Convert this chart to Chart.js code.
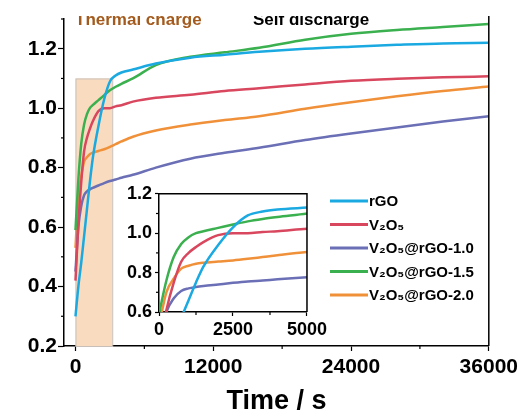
<!DOCTYPE html>
<html>
<head>
<meta charset="utf-8">
<script src="https://cdn.jsdelivr.net/npm/chart.js@4.4.0/dist/chart.umd.min.js"></script>
<style>
  html, body { margin: 0; padding: 0; background: #fff; }
  #wrap { position: relative; width: 522px; height: 419px; overflow: hidden; }
  #mainChart { position: absolute; left: 0; top: 0; }
  #insetChart { position: absolute; left: 100px; top: 180px; }
</style>
</head>
<body>
<div id="wrap">
  <canvas id="mainChart" width="522" height="419"></canvas>
  <canvas id="insetChart" width="230" height="160"></canvas>
</div>
<script>
// Sample times (s), shared by all curves
const times = [0, 250, 500, 750, 1000, 1250, 1500, 2000, 2500, 3000, 3500, 4000, 5000,
               7000, 10000, 13000, 16000, 20000, 24000, 28000, 32000, 36000];

// Voltage (V)
const rGO     = [0.30, 0.40, 0.48, 0.57, 0.66, 0.75, 0.83, 0.94, 1.03, 1.09, 1.11, 1.12, 1.13,
                 1.15, 1.17, 1.18, 1.19, 1.20, 1.207, 1.213, 1.218, 1.22];
const v2o5    = [0.42, 0.61, 0.75, 0.855, 0.90, 0.93, 0.955, 0.99, 1.0, 1.0, 1.006, 1.01, 1.022,
                 1.035, 1.045, 1.058, 1.067, 1.08, 1.092, 1.099, 1.104, 1.107];
const comp10  = [0.45, 0.60, 0.67, 0.707, 0.72, 0.727, 0.732, 0.74, 0.748, 0.755, 0.76, 0.766, 0.776,
                 0.80, 0.83, 0.85, 0.867, 0.893, 0.915, 0.935, 0.955, 0.973];
const comp15  = [0.59, 0.76, 0.88, 0.945, 0.98, 1.0, 1.01, 1.027, 1.044, 1.06, 1.072, 1.082, 1.10,
                 1.145, 1.173, 1.188, 1.203, 1.23, 1.25, 1.263, 1.273, 1.283];
const comp20  = [0.53, 0.70, 0.77, 0.82, 0.835, 0.845, 0.85, 0.856, 0.862, 0.87, 0.879, 0.888, 0.904,
                 0.925, 0.945, 0.96, 0.973, 0.998, 1.02, 1.04, 1.058, 1.073];

const seriesLabels = ['rGO', 'V₂O₅', 'V₂O₅@rGO-1.0', 'V₂O₅@rGO-1.5', 'V₂O₅@rGO-2.0'];
const seriesValues = [rGO, v2o5, comp10, comp15, comp20];

// Axis ticks
const mainXTicks = [0, 6000, 12000, 18000, 24000, 30000, 36000];
const mainYTicks = [0.2, 0.3, 0.4, 0.5, 0.6, 0.7, 0.8, 0.9, 1.0, 1.1, 1.2, 1.3];
const insetXTicks = [0, 1250, 2500, 3750, 5000];
const insetYTicks = [0.6, 0.7, 0.8, 0.9, 1.0, 1.1, 1.2];

// Thermal charge window (s, V)
const chargeWindow = [0, 3200];
const chargeTop = 1.1;

const COLORS = ['#1ba9e1', '#d8475e', '#6b6fb5', '#3bb04f', '#f0913a'];
const FONT = "'Liberation Sans', Arial, sans-serif";

function makeDatasets(width) {
    return seriesValues.map((vals, i) => ({
        label: seriesLabels[i],
        data: times.map((t, k) => ({ x: t, y: vals[k] })),
        borderColor: COLORS[i],
        borderWidth: width,
        pointRadius: 0,
        fill: false,
        cubicInterpolationMode: 'monotone'
    }));
}

// major/minor helpers
const isMajorY = v => Math.round(v * 10) % 2 === 0 && v < 1.25;
const tickColorY = c => (c.tick && isMajorY(c.tick.value)) ? '#000' : 'rgba(0,0,0,0)';

function drawMinor(ctx, scale, isMajor, len, horizontal) {
    ctx.save();
    ctx.strokeStyle = '#000';
    ctx.lineWidth = 1.2;
    scale.ticks.forEach(t => {
        if (isMajor(t.value)) return;
        const p = scale.getPixelForValue(t.value);
        ctx.beginPath();
        if (horizontal) {
            ctx.moveTo(p, scale.top);
            ctx.lineTo(p, scale.top + len);
        } else {
            ctx.moveTo(scale.right, p);
            ctx.lineTo(scale.right - len, p);
        }
        ctx.stroke();
    });
    ctx.restore();
}

const mainDecor = {
    id: 'mainDecor',
    beforeDatasetsDraw(chart) {
        const { ctx, scales: { x, y } } = chart;
        const l = x.getPixelForValue(chargeWindow[0]), r = x.getPixelForValue(chargeWindow[1]);
        const t = y.getPixelForValue(chargeTop), b = y.getPixelForValue(0.2);
        ctx.save();
        ctx.fillStyle = '#f9dcbf';
        ctx.fillRect(l, t, r - l, b - t);
        ctx.strokeStyle = '#c8c0b8';
        ctx.lineWidth = 1;
        ctx.strokeRect(l + 0.5, t + 0.5, r - l, b - t);
        ctx.restore();
    },
    afterDraw(chart) {
        const { ctx, chartArea, scales: { x, y } } = chart;
        // right axis line
        ctx.save();
        ctx.strokeStyle = '#000';
        ctx.lineWidth = 1.5;
        ctx.beginPath();
        ctx.moveTo(chartArea.right, chartArea.top - 3);
        ctx.lineTo(chartArea.right, chartArea.bottom);
        ctx.stroke();
        ctx.restore();

        drawMinor(ctx, x, v => v % 12000 === 0, 3, true);
        drawMinor(ctx, y, isMajorY, 3, false);

        // region labels, cut at the top like the source figure
        ctx.save();
        ctx.beginPath();
        ctx.rect(0, 16, chart.width, 30);
        ctx.clip();
        ctx.font = 'bold 17px ' + FONT;
        ctx.textBaseline = 'alphabetic';
        ctx.fillStyle = '#a35a1c';
        ctx.fillText('Thermal charge', 75, 25);
        ctx.fillStyle = '#000';
        ctx.fillText('Self discharge', 253, 25);
        ctx.restore();

        // legend
        ctx.save();
        ctx.font = 'bold 15px ' + FONT;
        ctx.textBaseline = 'middle';
        chart.data.datasets.forEach((ds, i) => {
            const yy = 201 + i * 23.5;
            ctx.strokeStyle = ds.borderColor;
            ctx.lineWidth = 3;
            ctx.beginPath();
            ctx.moveTo(330, yy);
            ctx.lineTo(368, yy);
            ctx.stroke();
            ctx.fillStyle = '#000';
            ctx.fillText(ds.label, 369, yy + 1);
        });
        ctx.restore();
    }
};

const insetDecor = {
    id: 'insetDecor',
    afterDraw(chart) {
        const { ctx, chartArea, scales: { x, y } } = chart;
        ctx.save();
        ctx.strokeStyle = '#000';
        ctx.lineWidth = 1.5;
        ctx.beginPath();
        ctx.moveTo(chartArea.left, chartArea.top);
        ctx.lineTo(chartArea.right, chartArea.top);
        ctx.lineTo(chartArea.right, chartArea.bottom);
        ctx.stroke();
        ctx.restore();
        drawMinor(ctx, x, v => v % 2500 === 0, 3, true);
        drawMinor(ctx, y, v => Math.round(v * 10) % 2 === 0, 3, false);
    }
};

new Chart(document.getElementById('mainChart'), {
    type: 'line',
    data: { datasets: makeDatasets(2.5) },
    options: {
        responsive: false,
        animation: false,
        layout: { padding: { left: 0, top: 19, right: 32, bottom: 0 } },
        plugins: { legend: { display: false }, tooltip: { enabled: false } },
        scales: {
            x: {
                type: 'linear',
                min: -1000,
                max: 36000,
                afterBuildTicks: s => { s.ticks = mainXTicks.map(v => ({ value: v })); },
                afterFit: s => { s.height = 73; },
                grid: {
                    drawOnChartArea: false, tickLength: 5, tickWidth: 1.2,
                    tickColor: c => (c.tick && c.tick.value % 12000 === 0) ? '#000' : 'rgba(0,0,0,0)'
                },
                border: { color: '#000', width: 1.5 },
                ticks: {
                    autoSkip: false, maxRotation: 0, padding: 4, color: '#000',
                    font: { family: FONT, size: 21, weight: 'bold' },
                    callback: v => v % 12000 === 0 ? String(v) : ''
                },
                title: {
                    display: true, text: 'Time / s', color: '#000',
                    font: { family: FONT, size: 27, weight: 'bold' },
                    padding: { top: 0, bottom: 1 }
                }
            },
            y: {
                min: 0.2,
                max: 1.3,
                afterBuildTicks: s => { s.ticks = mainYTicks.map(v => ({ value: v })); },
                afterFit: s => { s.width = 64; },
                grid: { drawOnChartArea: false, tickLength: 6, tickWidth: 1.2, tickColor: tickColorY },
                border: { color: '#000', width: 1.5 },
                ticks: {
                    autoSkip: false, padding: 1, color: '#000',
                    font: { family: FONT, size: 21, weight: 'bold' },
                    callback: v => isMajorY(v) ? v.toFixed(1) : ''
                }
            }
        }
    },
    plugins: [mainDecor]
});

new Chart(document.getElementById('insetChart'), {
    type: 'line',
    data: { datasets: makeDatasets(2.5) },
    options: {
        responsive: false,
        animation: false,
        layout: { padding: { left: 0, top: 10, right: 7, bottom: 0 } },
        plugins: { legend: { display: false }, tooltip: { enabled: false } },
        scales: {
            x: {
                type: 'linear',
                min: 0,
                max: 5000,
                afterBuildTicks: s => { s.ticks = insetXTicks.map(v => ({ value: v })); },
                afterFit: s => { s.height = 28; },
                grid: {
                    drawOnChartArea: false, tickLength: 4, tickWidth: 1.2,
                    tickColor: c => (c.tick && c.tick.value % 2500 === 0) ? '#000' : 'rgba(0,0,0,0)'
                },
                border: { color: '#000', width: 1.5 },
                ticks: {
                    autoSkip: false, maxRotation: 0, padding: 3, color: '#000',
                    font: { family: FONT, size: 18, weight: 'bold' },
                    callback: v => v % 2500 === 0 ? String(v) : ''
                }
            },
            y: {
                min: 0.6,
                max: 1.2,
                afterBuildTicks: s => { s.ticks = insetYTicks.map(v => ({ value: v })); },
                afterFit: s => { s.width = 59; },
                grid: {
                    drawOnChartArea: false, tickLength: 4, tickWidth: 1.2,
                    tickColor: c => (c.tick && Math.round(c.tick.value * 10) % 2 === 0) ? '#000' : 'rgba(0,0,0,0)'
                },
                border: { color: '#000', width: 1.5 },
                ticks: {
                    autoSkip: false, padding: 3, color: '#000',
                    font: { family: FONT, size: 18, weight: 'bold' },
                    callback: v => Math.round(v * 10) % 2 === 0 ? v.toFixed(1) : ''
                }
            }
        }
    },
    plugins: [insetDecor]
});
</script>
</body>
</html>
